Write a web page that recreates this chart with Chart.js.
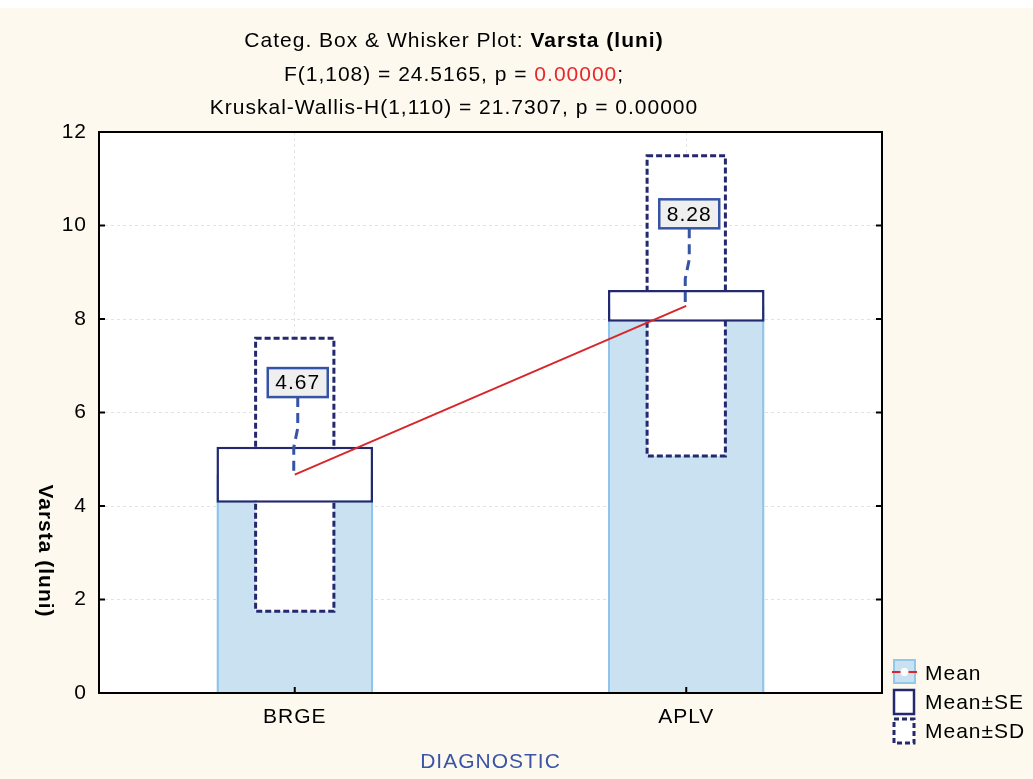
<!DOCTYPE html>
<html>
<head>
<title>Categ. Box &amp; Whisker Plot: Varsta (luni)</title>
<style>
    html, body { margin: 0; padding: 0; background: #fff; }
    canvas { display: block; }
</style>
</head>
<body>
<canvas id="chart" width="1033" height="779"></canvas>

<script src="https://cdn.jsdelivr.net/npm/chart.js@4.4.0/dist/chart.umd.min.js"></script>
<script>
    // values
    const categories = ['BRGE', 'APLV'];
    const means = [4.67, 8.28];
    const stdErr = [0.60, 0.34];
    const stdDev = [2.92, 3.21];
    const yTicks = [0, 2, 4, 6, 8, 10, 12];

    const FONT = '"Liberation Sans", Arial, sans-serif';
    const navy = '#24286f';
    const labelBlue = '#3654a5';

    const seRange = means.map((m, i) => [m - stdErr[i], m + stdErr[i]]);
    const sdRange = means.map((m, i) => [m - stdDev[i], m + stdDev[i]]);

    function drawRuns(ctx, runs, cx, y) {
        // runs: [text, bold, color]; centered on cx as a whole
        let total = 0;
        runs.forEach(r => {
            ctx.font = (r[1] ? 'bold ' : '') + '21px ' + FONT;
            r.w = ctx.measureText(r[0]).width;
            total += r.w;
        });
        let x = cx - total / 2;
        ctx.textAlign = 'left';
        runs.forEach(r => {
            ctx.font = (r[1] ? 'bold ' : '') + '21px ' + FONT;
            ctx.fillStyle = r[2] || '#000';
            ctx.fillText(r[0], x, y);
            x += r.w;
        });
    }

    const backdrop = {
        id: 'backdrop',
        beforeDraw(chart) {
            const {ctx, chartArea: a} = chart;
            ctx.letterSpacing = '1px';
            ctx.save();
            ctx.fillStyle = '#fdf9ef';
            ctx.fillRect(0, 8, chart.width, chart.height - 8);
            ctx.fillStyle = '#ffffff';
            ctx.fillRect(a.left, a.top, a.right - a.left, a.bottom - a.top);
            ctx.restore();
        }
    };

    // bars can't do dashed borders, so stroke the SD boxes right after that dataset
    const sdOutline = {
        id: 'sdOutline',
        afterDatasetDraw(chart, args) {
            if (chart.data.datasets[args.index].label !== 'Mean±SD') return;
            const ctx = chart.ctx;
            ctx.save();
            ctx.strokeStyle = navy;
            ctx.lineWidth = 3;
            ctx.setLineDash([6, 3]);
            args.meta.data.forEach(bar => {
                const {x, y, base, width} = bar.getProps(['x', 'y', 'base', 'width'], true);
                ctx.strokeRect(x - width / 2, Math.min(y, base), width, Math.abs(base - y));
            });
            ctx.restore();
        }
    };

    const decorations = {
        id: 'decorations',
        afterDatasetsDraw(chart) {
            const {ctx, chartArea: a, scales: {x, y}} = chart;
            ctx.save();

            // mean value labels with dashed leaders
            means.forEach((m, i) => {
                const px = x.getPixelForValue(i);
                const py = y.getPixelForValue(m);
                const ly = y.getPixelForValue(m + 1.97);
                const bx = px + 3, bw = 60, bh = 29;
                const top = ly + bh / 2, len = py - top;

                ctx.strokeStyle = labelBlue;
                ctx.lineWidth = 3;
                ctx.setLineDash([10, 6]);
                ctx.beginPath();
                ctx.moveTo(bx, top);
                ctx.lineTo(bx, top + len * 0.4);
                ctx.lineTo(px - 1, top + len * 0.65);
                ctx.lineTo(px - 1, py);
                ctx.stroke();
                ctx.setLineDash([]);

                ctx.fillStyle = '#efefef';
                ctx.fillRect(bx - bw / 2, ly - bh / 2, bw, bh);
                ctx.lineWidth = 2.5;
                ctx.strokeRect(bx - bw / 2, ly - bh / 2, bw, bh);
                ctx.fillStyle = '#000';
                ctx.font = '21px ' + FONT;
                ctx.textAlign = 'center';
                ctx.textBaseline = 'middle';
                ctx.fillText(m.toFixed(2), bx, ly + 1);
            });

            // frame and inner tick marks
            ctx.strokeStyle = '#000';
            ctx.lineWidth = 2;
            ctx.strokeRect(a.left, a.top, a.right - a.left, a.bottom - a.top);
            ctx.beginPath();
            yTicks.forEach(v => {
                const ty = y.getPixelForValue(v);
                ctx.moveTo(a.left, ty); ctx.lineTo(a.left + 6, ty);
                ctx.moveTo(a.right, ty); ctx.lineTo(a.right - 6, ty);
            });
            categories.forEach((c, i) => {
                const tx = x.getPixelForValue(i);
                ctx.moveTo(tx, a.bottom); ctx.lineTo(tx, a.bottom - 6);
            });
            ctx.stroke();
            ctx.restore();
        },
        afterDraw(chart) {
            const ctx = chart.ctx;
            const a = chart.chartArea;
            ctx.save();
            ctx.textBaseline = 'alphabetic';

            // title
            drawRuns(ctx, [['Categ. Box & Whisker Plot: ', false], ['Varsta (luni)', true]], 454, 47);
            drawRuns(ctx, [['F(1,108) = 24.5165, p = ', false], ['0.00000', false, '#e8262b'], [';', false]], 454, 81);
            drawRuns(ctx, [['Kruskal-Wallis-H(1,110) = 21.7307, p = 0.00000', false]], 454, 114);

            // axis titles
            ctx.fillStyle = '#3b55a6';
            ctx.font = '21px ' + FONT;
            ctx.textAlign = 'center';
            ctx.fillText('DIAGNOSTIC', (a.left + a.right) / 2, 768);

            ctx.save();
            ctx.translate(45, 551);
            ctx.rotate(Math.PI / 2);
            ctx.fillStyle = '#000';
            ctx.font = 'bold 21px ' + FONT;
            ctx.textBaseline = 'middle';
            ctx.fillText('Varsta (luni)', 0, 0);
            ctx.restore();

            // legend
            const lx = 894;
            ctx.fillStyle = '#c9e1f1';
            ctx.fillRect(lx, 660, 21, 23);
            ctx.strokeStyle = '#93c8ec';
            ctx.lineWidth = 2;
            ctx.strokeRect(lx, 660, 21, 23);
            ctx.strokeStyle = '#d8262b';
            ctx.beginPath(); ctx.moveTo(lx - 2, 672); ctx.lineTo(lx + 23, 672); ctx.stroke();
            ctx.fillStyle = '#fff';
            ctx.beginPath(); ctx.arc(lx + 10.5, 672, 4, 0, Math.PI * 2); ctx.fill();

            ctx.fillStyle = '#fff';
            ctx.fillRect(lx, 690, 20, 24);
            ctx.strokeStyle = navy;
            ctx.lineWidth = 2.5;
            ctx.strokeRect(lx, 690, 20, 24);

            ctx.fillRect(lx, 719, 20, 24);
            ctx.lineWidth = 3;
            ctx.setLineDash([5, 3]);
            ctx.strokeRect(lx, 719, 20, 24);
            ctx.setLineDash([]);

            ctx.fillStyle = '#000';
            ctx.font = '21px ' + FONT;
            ctx.textAlign = 'left';
            ctx.fillText('Mean', 925, 680);
            ctx.fillText('Mean±SE', 925, 709);
            ctx.fillText('Mean±SD', 925, 738);
            ctx.restore();
        }
    };

    const chart = new Chart('chart', {
        data: {
            labels: categories,
            datasets: [
                {
                    type: 'line',
                    label: 'Mean line',
                    data: means,
                    borderColor: '#d8262b',
                    borderWidth: 2,
                    pointRadius: 0,
                    order: 0
                },
                {
                    type: 'bar',
                    label: 'Mean±SE',
                    data: seRange,
                    backgroundColor: '#ffffff',
                    borderColor: navy,
                    borderWidth: 2.5,
                    borderSkipped: false,
                    grouped: false,
                    categoryPercentage: 1,
                    barPercentage: 0.4,
                    order: 1
                },
                {
                    type: 'bar',
                    label: 'Mean±SD',
                    data: sdRange,
                    backgroundColor: '#ffffff',
                    borderWidth: 0,
                    grouped: false,
                    categoryPercentage: 1,
                    barPercentage: 0.2,
                    order: 2
                },
                {
                    type: 'bar',
                    label: 'Mean',
                    data: means,
                    backgroundColor: '#c9e1f1',
                    borderColor: '#8fc5ec',
                    borderWidth: {left: 2.5, right: 2.5, top: 0, bottom: 0},
                    borderSkipped: false,
                    grouped: false,
                    categoryPercentage: 1,
                    barPercentage: 0.4,
                    order: 3
                }
            ]
        },
        options: {
            responsive: false,
            animation: false,
            layout: { padding: { top: 132, right: 151, left: 0, bottom: 0 } },
            plugins: {
                legend: { display: false },
                tooltip: { enabled: false },
                title: { display: false }
            },
            scales: {
                x: {
                    offset: true,
                    grid: { offset: false, color: '#e2e2e2', lineWidth: 1, drawTicks: false },
                    border: { display: false, dash: [3, 3] },
                    ticks: { color: '#000', font: { family: FONT, size: 21 }, padding: 12 },
                    afterFit: s => { s.height = 86; }
                },
                y: {
                    min: 0,
                    max: 12,
                    afterBuildTicks: s => { s.ticks = yTicks.map(v => ({value: v})); },
                    grid: { color: '#e2e2e2', lineWidth: 1, drawTicks: false },
                    border: { display: false, dash: [3, 3] },
                    ticks: { color: '#000', font: { family: FONT, size: 21 }, padding: 12 },
                    afterFit: s => { s.width = 99; }
                }
            }
        },
        plugins: [backdrop, sdOutline, decorations]
    });
</script>
</body>
</html>
